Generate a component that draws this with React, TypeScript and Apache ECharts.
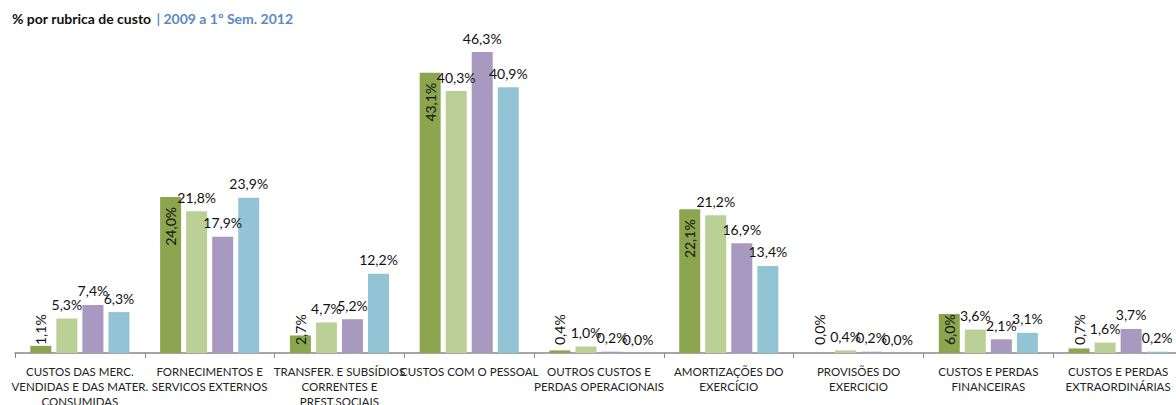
import React, { useEffect, useRef } from "react";
import * as echarts from "echarts";

const categories = [
  "CUSTOS DAS MERC.\nVENDIDAS E DAS MATER.\nCONSUMIDAS",
  "FORNECIMENTOS E\nSERVICOS EXTERNOS",
  "TRANSFER. E SUBSÍDIOS\nCORRENTES E\nPREST.SOCIAIS",
  "CUSTOS COM O PESSOAL",
  "OUTROS CUSTOS E\nPERDAS OPERACIONAIS",
  "AMORTIZAÇÕES DO\nEXERCÍCIO",
  "PROVISÕES DO\nEXERCICIO",
  "CUSTOS E PERDAS\nFINANCEIRAS",
  "CUSTOS E PERDAS\nEXTRAORDINÁRIAS",
];
const seriesNames = ["2009", "2010", "2011", "1º Sem. 2012"];
const s2009 = [1.1, 24.0, 2.7, 43.1, 0.4, 22.1, 0.0, 6.0, 0.7];
const s2010 = [5.3, 21.8, 4.7, 40.3, 1.0, 21.2, 0.4, 3.6, 1.6];
const s2011 = [7.4, 17.9, 5.2, 46.3, 0.2, 16.9, 0.2, 2.1, 3.7];
const s2012 = [6.3, 23.9, 12.2, 40.9, 0.0, 13.4, 0.0, 3.1, 0.2];
const colors = ["#8BA64F", "#BBD097", "#A899C0", "#93C4D6"];

const FONT = "Lato, 'Open Sans', sans-serif";
const fmt = (v: number) => v.toFixed(1).replace(".", ",") + "%";

export default function App() {
  const ref = useRef<HTMLDivElement>(null);
  useEffect(() => {
    if (!ref.current) return;
    const chart = echarts.init(ref.current, undefined, { renderer: "svg" });
    const labelStyle = { fontFamily: FONT, fontSize: 14, color: "#111" };
    const firstData = s2009.map((v) => {
      const small = v < 7;
      return {
        value: v,
        label: small
          ? { position: "insideBottom", distance: 8, align: "left", verticalAlign: "middle" }
          : { position: "insideTop", distance: 10, align: "right", verticalAlign: "middle" },
      };
    });
    const all = [firstData, s2010, s2011, s2012];
    chart.setOption({
      animation: false,
      title: {
        text: "{a|% por rubrica de custo} {b|| 2009 a 1º Sem. 2012}",
        left: 7,
        top: 4,
        textStyle: {
          rich: {
            a: { fontFamily: FONT, fontSize: 14, fontWeight: "bold", color: "#111" },
            b: { fontFamily: FONT, fontSize: 14, fontWeight: "bold", color: "#5A8AC6" },
          },
        },
      },
      grid: {
        left: 15,
        top: 28,
        width: 1168,
        height: 325,
        containLabel: false,
        outerBoundsMode: "none",
      },
      xAxis: {
        type: "category",
        data: categories,
        axisLine: { lineStyle: { color: "#888", width: 1.5 } },
        axisTick: { show: true, length: 5, lineStyle: { color: "#888" } },
        axisLabel: {
          interval: 0,
          margin: 11,
          fontFamily: FONT,
          fontSize: 11.5,
          lineHeight: 15,
          color: "#222",
        },
      },
      yAxis: { type: "value", min: 0, max: 50, show: false, splitLine: { show: false } },
      series: all.map((d, i) => ({
        name: seriesNames[i],
        type: "bar",
        data: d,
        barWidth: 21,
        barGap: "24%",
        itemStyle: { color: colors[i] },
        label: {
          show: true,
          formatter: (p: any) => fmt(p.value),
          ...labelStyle,
          ...(i === 0 ? { rotate: 90 } : { position: "top", distance: 7 }),
        },
      })),
    });
    return () => chart.dispose();
  }, []);
  return (
    <div
      ref={ref}
      style={{ position: "fixed", left: 0, top: 0, width: 1176, height: 405, background: "#fff" }}
    />
  );
}
